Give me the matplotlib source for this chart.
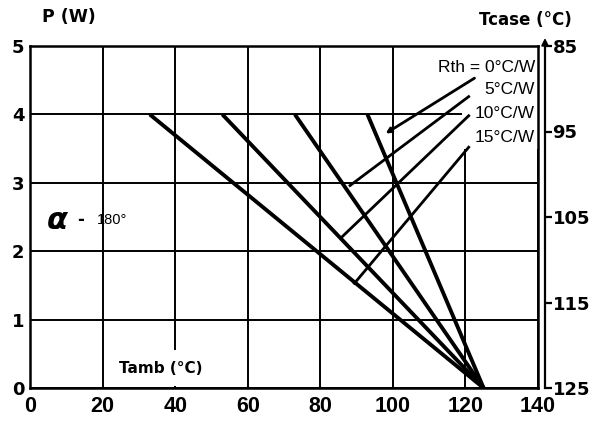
import matplotlib.pyplot as plt
from matplotlib.patches import Rectangle

# derating curves: all meet at Tamb = 125 C, P = 0
rth = [0, 5, 10, 15]
tamb_at_4w = [93, 73, 53, 33]
p_top = 4.0
tamb_zero = 125

rth_labels = ['Rth = 0°C/W', '5°C/W', '10°C/W', '15°C/W']
label_y = [4.69, 4.36, 4.01, 3.66]
leader_start = [(122.5, 4.53), (120.9, 4.26), (120.9, 3.98), (120.9, 3.52)]
leader_end = [(98.0, 3.72), (88.2, 2.96), (85.8, 2.20), (89.4, 1.53)]

x_ticks = [0, 20, 40, 60, 80, 100, 120, 140]
y_ticks = [0, 1, 2, 3, 4, 5]
tcase_ticks = [85, 95, 105, 115, 125]

fig = plt.figure(figsize=(5.94, 4.22), dpi=100)
ax = fig.add_axes([30 / 594, 34 / 422, 508 / 594, 342 / 422])

ax.set_xlim(0, 140)
ax.set_ylim(0, 5)
ax.set_xticks(x_ticks)
ax.set_yticks(y_ticks)
ax.set_xticklabels([str(v) for v in x_ticks], fontfamily='Liberation Sans',
                   fontweight='bold', fontsize=15.5)
ax.set_yticklabels([str(v) for v in y_ticks], fontfamily='DejaVu Sans',
                   fontweight='bold', fontsize=13)
ax.tick_params(axis='both', length=0)
ax.tick_params(axis='x', pad=6)
ax.tick_params(axis='y', pad=4)
ax.grid(True, color='black', linewidth=1.4)
ax.set_axisbelow(True)
for s in ax.spines.values():
    s.set_linewidth(1.8)
    s.set_zorder(6)

# white area behind the Rth labels
ax.add_patch(Rectangle((119, 3.5), 21, 1.5, facecolor='white',
                       edgecolor='none', zorder=2))

for t4 in tamb_at_4w:
    ax.plot([t4, tamb_zero], [p_top, 0], color='black', linewidth=2.8,
            solid_capstyle='butt', zorder=3)

for i in range(len(rth)):
    ax.text(139.2, label_y[i], rth_labels[i], ha='right', va='center',
            fontfamily='Liberation Sans', fontsize=12.5, zorder=5)
    if i == 0:
        ax.annotate('', xy=leader_end[i], xytext=leader_start[i],
                    arrowprops=dict(arrowstyle='-|>,head_length=0.3,head_width=0.15',
                                    color='black', lw=2.0, shrinkA=0, shrinkB=0),
                    zorder=4)
    else:
        ax.plot([leader_start[i][0], leader_end[i][0]],
                [leader_start[i][1], leader_end[i][1]],
                color='black', linewidth=2.0, zorder=4)

ax.text(7.5, 2.45, 'α', ha='center', va='center', fontsize=22,
        fontweight='bold', fontstyle='italic', fontfamily='DejaVu Sans')
ax.text(14.0, 2.45, '-', ha='center', va='center', fontsize=12,
        fontweight='bold', fontfamily='DejaVu Sans')
ax.text(18.5, 2.45, '180°', ha='left', va='center', fontsize=10.5,
        fontfamily='Liberation Sans')

ax.text(36, 0.29, 'Tamb (°C)', ha='center', va='center', fontsize=11,
        fontweight='bold', fontfamily='DejaVu Sans', zorder=5,
        bbox=dict(facecolor='white', edgecolor='none', pad=7.5))

fig.text(69 / 594, 1 - 17 / 422, 'P (W)', ha='center', va='center',
         fontsize=12.5, fontweight='bold', fontfamily='DejaVu Sans')
fig.text(572 / 594, 1 - 20 / 422, 'Tcase (°C)', ha='right', va='center',
         fontsize=12, fontweight='bold', fontfamily='DejaVu Sans')

# case temperature scale on the right
ax2 = ax.twinx()
for name in ['top', 'bottom', 'left']:
    ax2.spines[name].set_visible(False)
ax2.spines['right'].set_position(('outward', 5))
ax2.spines['right'].set_linewidth(1.6)
ax2.set_ylim(125, 85)
ax2.spines['right'].set_bounds(125, 85)
ax2.tick_params(axis='y', direction='out', length=5, width=1.6, pad=0.5)
ax2.set_yticks(tcase_ticks)
ax2.set_yticklabels([str(v) for v in tcase_ticks], fontfamily='DejaVu Sans',
                    fontweight='bold', fontsize=13)

ax.annotate('', xy=(545 / 594, 1 - 38 / 422), xytext=(545 / 594, 1 - 47 / 422),
            xycoords='figure fraction',
            arrowprops=dict(arrowstyle='-|>,head_length=0.4,head_width=0.2',
                            color='black', lw=1.4, shrinkA=0, shrinkB=0))

fig.savefig('out.png', dpi=100)
